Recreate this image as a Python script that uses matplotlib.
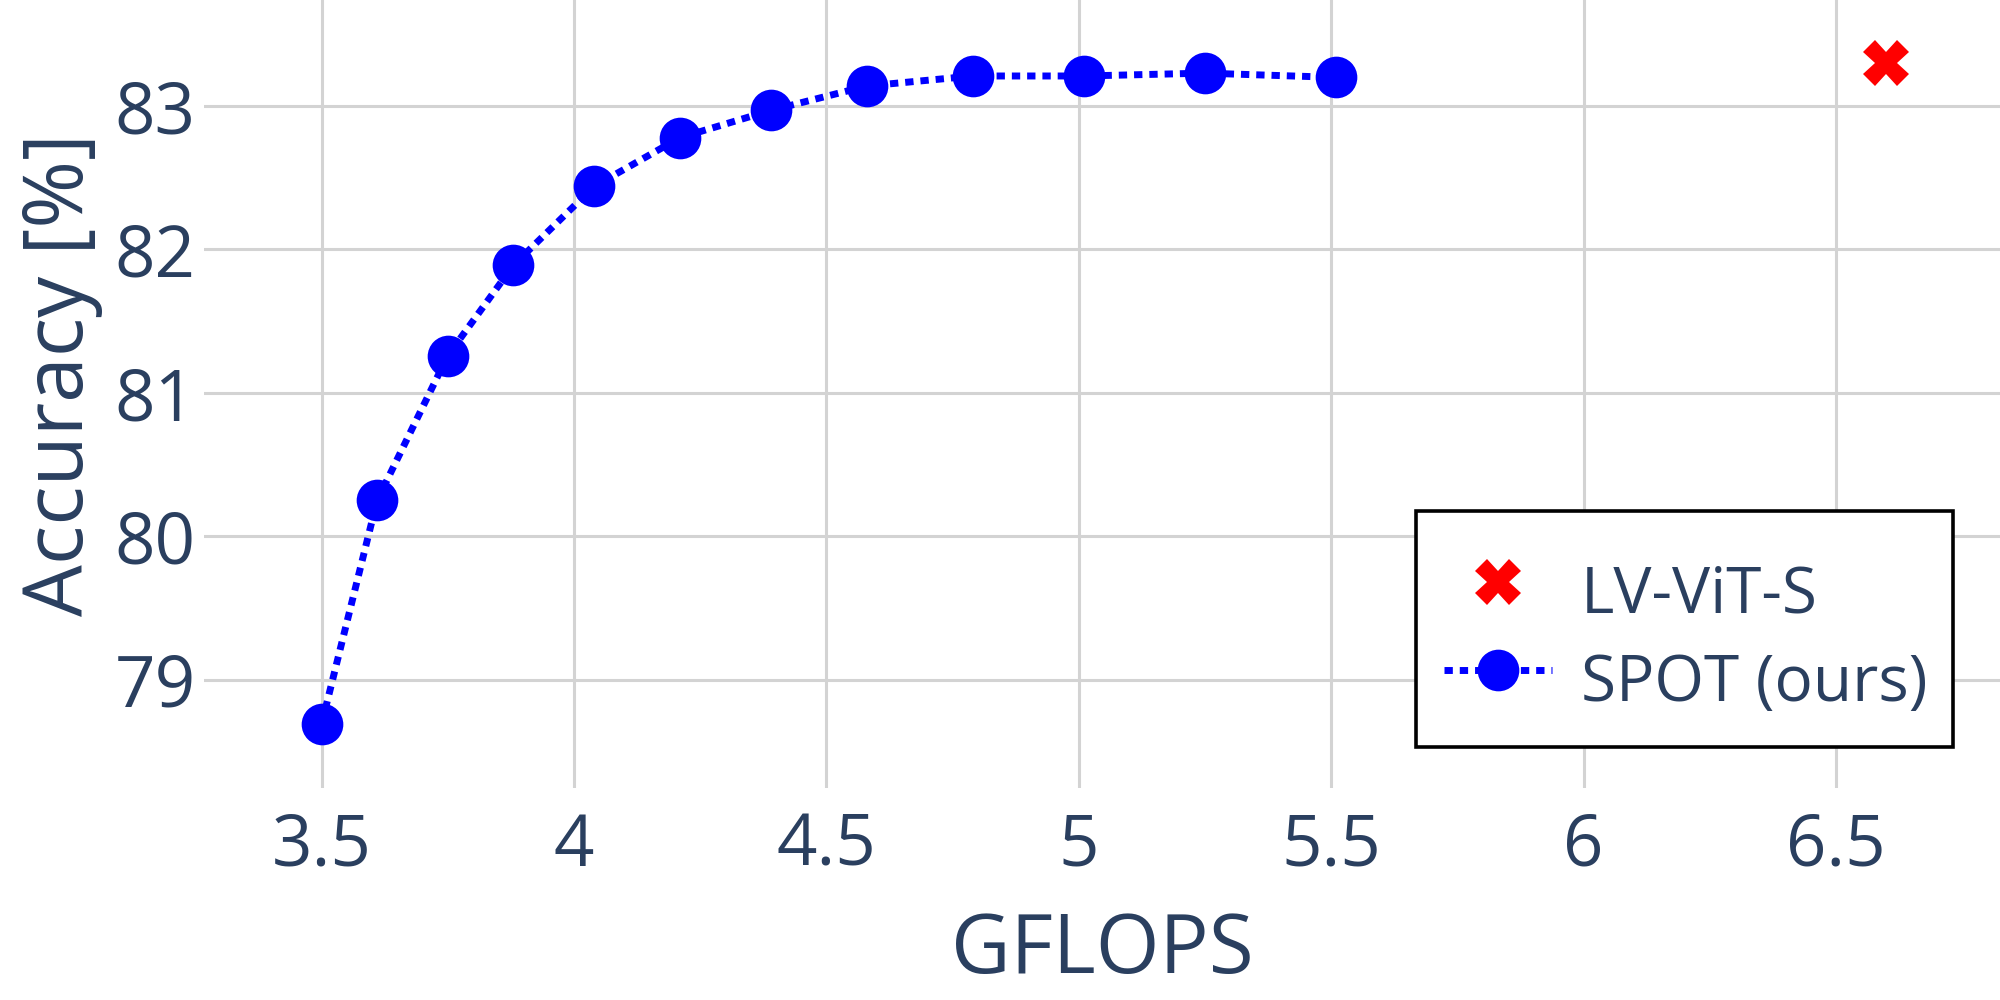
import matplotlib
matplotlib.use("Agg")
from matplotlib import pyplot as plt
from matplotlib.patches import Rectangle

# SPOT (ours) accuracy vs GFLOPS
spot_gflops = [3.5, 3.61, 3.75, 3.88, 4.04, 4.21, 4.39, 4.58, 4.79, 5.01, 5.25, 5.51]
spot_acc = [78.69, 80.25, 81.26, 81.89, 82.44, 82.78, 82.97, 83.14, 83.21, 83.21, 83.23, 83.2]

# baseline
lvvit_gflops = [6.6]
lvvit_acc = [83.3]

xticks = [3.5, 4, 4.5, 5, 5.5, 6, 6.5]
xtick_labels = ['3.5', '4', '4.5', '5', '5.5', '6', '6.5']
yticks = [79, 80, 81, 82, 83]

txt = '#2a3f5f'
plt.rcParams['font.family'] = ['Open Sans', 'DejaVu Sans']

fig = plt.figure(figsize=(20, 10), dpi=100)
ax = fig.add_axes([0.102, 0.2123, 0.898, 0.7877])

ax.plot(lvvit_gflops, lvvit_acc, linestyle='none', marker='X', markersize=33,
        color='#ff0000', markeredgewidth=0, label='LV-ViT-S', zorder=3)
ax.plot(spot_gflops, spot_acc, linestyle=(0, (1.2, 1)), linewidth=5, color='#0000ff',
        marker='o', markersize=30, markeredgewidth=0, label='SPOT (ours)', zorder=3)

ax.set_xlim(3.267, 6.825)
ax.set_ylim(78.246, 83.74)
ax.set_xticks(xticks)
ax.set_xticklabels(xtick_labels)
ax.set_yticks(yticks)

ax.grid(True, color='#d3d3d3', linewidth=2.2)
ax.set_axisbelow(True)
for s in ax.spines.values():
    s.set_visible(False)

ax.tick_params(axis='both', length=0, labelsize=51, labelcolor=txt)
ax.tick_params(axis='x', pad=17)
ax.tick_params(axis='y', pad=6)

ax.set_xlabel('GFLOPS', fontsize=59, color=txt, labelpad=20)
ax.set_ylabel('Accuracy [%]', fontsize=59, color=txt)
ax.yaxis.set_label_coords(-0.056, 0.524)

# legend box (plotly style: square, black border)
box = Rectangle((0.6748, 0.052), 0.299, 0.2993, transform=ax.transAxes,
                facecolor='white', edgecolor='black', linewidth=2.6, zorder=4.5)
ax.add_patch(box)

leg = ax.legend(loc='lower right', bbox_to_anchor=(0.9738, 0.052), borderaxespad=0,
                fontsize=46, frameon=False, handlelength=1.7, handletextpad=0.45,
                handleheight=1.6, borderpad=0.4, labelspacing=0.1)
for t in leg.get_texts():
    t.set_color(txt)

plt.savefig('out.png', dpi=100)
